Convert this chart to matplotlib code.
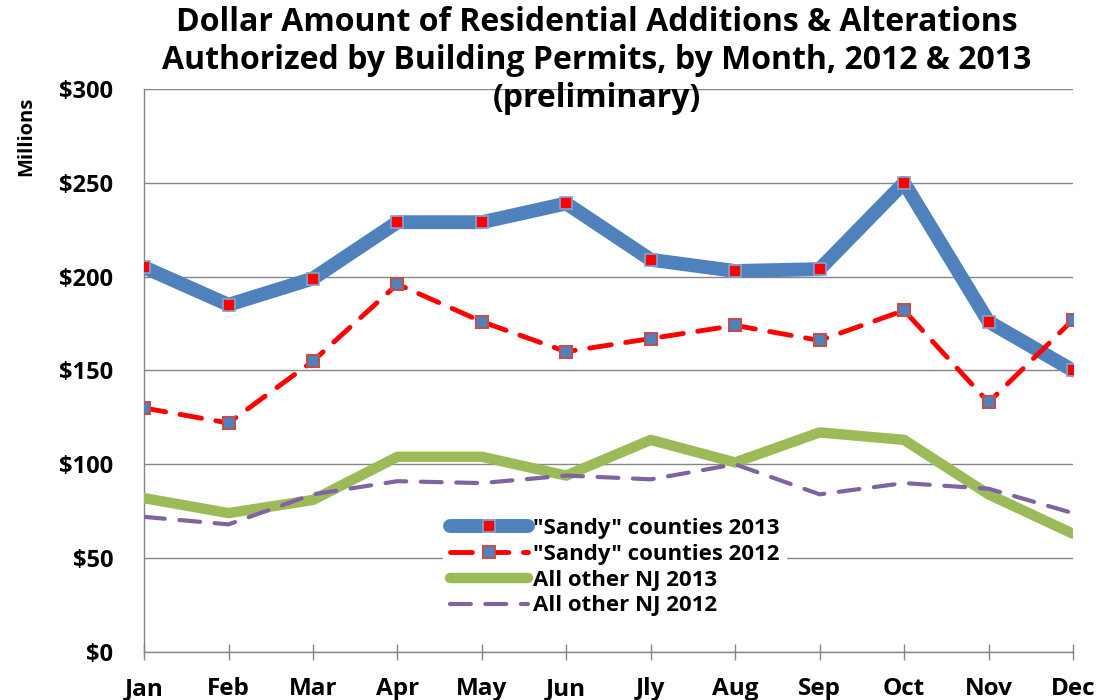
import matplotlib
matplotlib.use("Agg")
import matplotlib.pyplot as plt

months = ["Jan", "Feb", "Mar", "Apr", "May", "Jun",
          "Jly", "Aug", "Sep", "Oct", "Nov", "Dec"]
sandy_2013 = [205, 185, 199, 229, 229, 239, 209, 203, 204, 250, 176, 150]
sandy_2012 = [130, 122, 155, 196, 176, 160, 167, 174, 166, 182, 133, 177]
other_2013 = [82, 74, 81, 104, 104, 94, 113, 101, 117, 113, 84, 63]
other_2012 = [72, 68, 84, 91, 90, 94, 92, 100, 84, 90, 87, 74]
yticks = [0, 50, 100, 150, 200, 250, 300]

plt.rcParams["font.family"] = ["Open Sans", "DejaVu Sans"]

fig = plt.figure(figsize=(11.03, 7.0), dpi=100)
ax = fig.add_axes([0.1306, 0.0686, 0.8422, 0.8043])
x = list(range(len(months)))

ax.plot(x, sandy_2013, color="#4f81bd", lw=10, solid_capstyle="round",
        marker="s", ms=8, mfc="#ff0000", mec="#7fa6d8", mew=1.2,
        label='"Sandy" counties 2013', zorder=4)
ax.plot(x, sandy_2012, color="#ff0000", lw=3.5, dashes=(4.5, 3),
        dash_capstyle="round", marker="s", ms=9, mfc="#4f81bd",
        mec="#c0504d", mew=1.5, label='"Sandy" counties 2012', zorder=5)
ax.plot(x, other_2013, color="#9bbb59", lw=7.5, solid_capstyle="round",
        label="All other NJ 2013", zorder=3)
ax.plot(x, other_2012, color="#8064a2", lw=3, dashes=(5, 3.5),
        dash_capstyle="round", label="All other NJ 2012", zorder=3)

ax.set_xlim(0, 11)
ax.set_ylim(0, 300)
ax.set_yticks(yticks)
ax.set_yticklabels([f"${v}" for v in yticks], fontsize=17, fontweight="bold")
ax.set_xticks(x)
ax.set_xticklabels(months, fontsize=17.5, fontweight="bold")
ax.tick_params(axis="y", length=0, pad=22)
ax.tick_params(axis="x", direction="inout", length=12, width=1,
               color="#868686", pad=12)
ax.yaxis.grid(True, color="#868686", lw=1)
ax.set_axisbelow(True)
for s in ["top", "right"]:
    ax.spines[s].set_visible(False)
for s in ["left", "bottom"]:
    ax.spines[s].set_color("#868686")
    ax.spines[s].set_linewidth(1)

leg = ax.legend(loc="upper left", bbox_to_anchor=(0.31, 0.27), frameon=True,
                fancybox=False, edgecolor="white", framealpha=1,
                prop={"weight": "bold", "size": 16}, handlelength=3.5,
                handletextpad=0.25, labelspacing=0.22, borderpad=0.3)
leg.set_zorder(6)

fig.text(0.024, 0.805, "Millions", rotation=90, ha="center", va="center",
         fontsize=14.5, fontweight="bold")
fig.text(0.541, 0.914,
         "Dollar Amount of Residential Additions & Alterations\n"
         "Authorized by Building Permits, by Month, 2012 & 2013\n"
         "(preliminary)",
         ha="center", va="center", fontsize=23, fontweight="bold",
         linespacing=1.2)

fig.savefig("out.png", dpi=100)
